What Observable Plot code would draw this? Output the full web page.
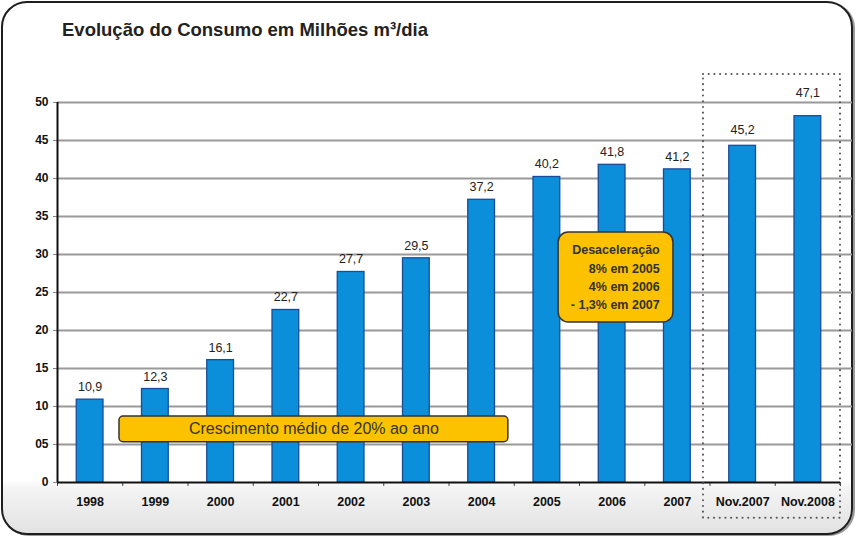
<!DOCTYPE html>
<html>
<head>
<meta charset="utf-8">
<script src="https://cdn.jsdelivr.net/npm/d3@7"></script>
<script src="https://cdn.jsdelivr.net/npm/@observablehq/plot@0.6"></script>
<style>
  html, body { margin: 0; padding: 0; background: #fff; }
  #wrap { position: relative; width: 857px; height: 537px; overflow: hidden; font-family: "Liberation Sans", Arial, sans-serif; }
  #frame { position: absolute; left: 1px; top: 1px; width: 852px; height: 534px; box-sizing: border-box;
    border: 2.5px solid #1e1e1e; border-radius: 26px;
    background: linear-gradient(to bottom, #ffffff 0%, #ffffff 90%, #f4f4f4 91.5%, #e2e2e2 100%);
    box-shadow: 2px 1px 0 #9a9a9a; }
  #title { position: absolute; left: 62px; top: 21px; font-size: 18.5px; line-height: 18.5px; font-weight: bold; color: #222; white-space: nowrap; }
  #chart { position: absolute; left: 0; top: 0; }
  #chart svg, #chart svg text { font-family: "Liberation Sans", Arial, sans-serif !important; }
</style>
</head>
<body>
<div id="wrap">
  <div id="frame"></div>
  <div id="title">Evolução do Consumo em Milhões m³/dia</div>
  <div id="chart"></div>
</div>
<script>
const categories = ["1998","1999","2000","2001","2002","2003","2004","2005","2006","2007","Nov.2007","Nov.2008"];
const barHeights = [10.9, 12.3, 16.1, 22.7, 27.7, 29.5, 37.2, 40.2, 41.8, 41.2, 44.3, 48.2];
const valueLabels = ["10,9","12,3","16,1","22,7","27,7","29,5","37,2","40,2","41,8","41,2","45,2","47,1"];
const yTicks = [0, 5, 10, 15, 20, 25, 30, 35, 40, 45, 50];
const yTickLabels = ["0","05","10","15","20","25","30","35","40","45","50"];
const growthNote = "Crescimento médio de 20% ao ano";
const slowdownNote = ["Desaceleração", "8% em 2005", "4% em 2006", "- 1,3% em 2007"];

const data = categories.map((c, i) => ({cat: c, i, v: barHeights[i], label: valueLabels[i]}));
const n = categories.length;
const barFill = "#0c8fda", barStroke = "#1b4c98", noteFill = "#fcc200";

const chart = Plot.plot({
  width: 857, height: 537,
  marginLeft: 57, marginRight: 5, marginTop: 102, marginBottom: 55,
  style: {background: "transparent", fontFamily: "'Liberation Sans', Arial, sans-serif", color: "#111", overflow: "visible"},
  x: {type: "linear", domain: [0, n], range: [57, 840]},
  y: {domain: [0, 50], range: [482, 102]},
  marks: [
    Plot.ruleY(yTicks.filter(t => t > 0), {stroke: "#999", strokeWidth: 2}),
    Plot.axisY({ticks: yTicks, tickSize: 4, tickPadding: 5, stroke: "#888", fontSize: 12, fontWeight: "bold",
      tickFormat: d => yTickLabels[yTicks.indexOf(d)], label: null}),
    Plot.axisX({ticks: d3.range(n + 1), tickSize: 4, tickFormat: () => "", stroke: "#444", label: null}),
    Plot.axisX({ticks: d3.range(n).map(i => i + 0.5), tickSize: 0, tickPadding: 15, fontSize: 12.5, fontWeight: "bold",
      tickFormat: d => categories[Math.floor(d)], label: null}),
    Plot.rectY(data, {x1: d => d.i + 0.295, x2: d => d.i + 0.705, y: "v", fill: barFill, stroke: barStroke, strokeWidth: 1.3}),
    Plot.ruleX([0], {y1: 0, y2: 50, stroke: "#111", strokeWidth: 2}),
    Plot.ruleY([0], {x1: 0, x2: n, stroke: "#111", strokeWidth: 2}),
    Plot.text(data.filter(d => d.i < 10), {x: d => d.i + 0.5, y: "v", text: "label", dy: -8.5, lineAnchor: "bottom", fontSize: 12.5, fill: "#222"}),
    Plot.text(data.filter(d => d.i === 10), {x: d => d.i + 0.5, y: "v", text: "label", dy: -12, lineAnchor: "bottom", fontSize: 12.5, fill: "#222"}),
    Plot.text(data.filter(d => d.i === 11), {x: d => d.i + 0.5, y: "v", text: "label", dy: -19, lineAnchor: "bottom", fontSize: 12.5, fill: "#222"}),
    // highlighted period box
    Plot.rect([{}], {x1: 9.9, x2: n, y1: -4.7, y2: 53.7, fill: "none", stroke: "#555", strokeWidth: 2,
      strokeDasharray: "0.1,5.6", strokeLinecap: "round"}),
    // growth note
    Plot.rect([{}], {x1: 0.95, x2: 6.91, y1: 5.3, y2: 8.68, fill: noteFill, stroke: "#333", strokeWidth: 1.5, rx: 4}),
    Plot.text([growthNote], {x: 3.93, y: 7.0, text: d => d, fontSize: 16, fill: "#333", lineAnchor: "middle"}),
    // slowdown note
    Plot.rect([{}], {x1: 7.68, x2: 9.44, y1: 21.05, y2: 32.9, fill: noteFill, stroke: "#333", strokeWidth: 1.5, rx: 10}),
    Plot.text([slowdownNote.join("\n")], {x: 9.23, y: 27.17, text: d => d, fontSize: 12.5, fontWeight: "bold",
      fill: "#333", textAnchor: "end", lineAnchor: "middle", lineHeight: 1.465})
  ]
});
document.getElementById("chart").appendChild(chart);
</script>
</body>
</html>
